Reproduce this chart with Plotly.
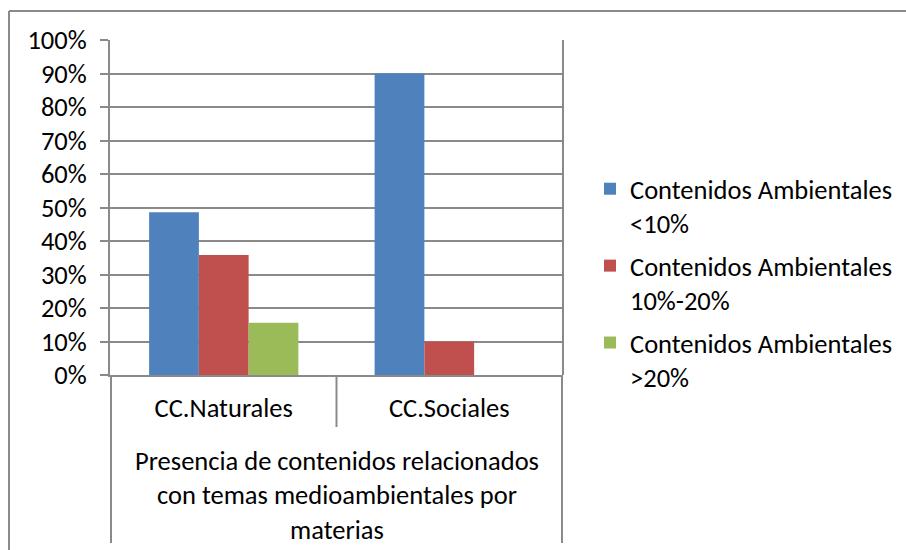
import plotly.graph_objects as go

categories = ["CC.Naturales", "CC.Sociales"]
series_names = ["Contenidos Ambientales<br><10%",
                "Contenidos Ambientales<br>10%-20%",
                "Contenidos Ambientales<br>>20%"]
vals_lt10 = [0.486, 0.90]
vals_10_20 = [0.358, 0.10]
vals_gt20 = [0.156, 0.0]
colors = ["#4F81BD", "#C0504D", "#9BBB59"]
outer_label = "Presencia de contenidos relacionados<br>con temas medioambientales por<br>materias"

FONT = "Carlito, Calibri, Lato, sans-serif"
FS = 26.5
GRID = "#8a8a8a"

fig = go.Figure()
for i, (name, vals) in enumerate(zip(series_names, [vals_lt10, vals_10_20, vals_gt20])):
    fig.add_trace(go.Bar(x=categories, y=vals, name=name, marker_color=colors[i],
                         marker_line_width=0, legendgroup=str(i)))

fig.update_layout(
    width=906, height=550,
    margin=dict(l=110, r=343, t=40, b=175, autoexpand=False),
    paper_bgcolor="white", plot_bgcolor="white",
    barmode="group", bargap=0.338, bargroupgap=0,
    font=dict(family=FONT, size=FS, color="black"),
    showlegend=True,
    legend=dict(x=(590 - 110) / 453, xanchor="left", y=(375 - 165) / 335, yanchor="top",
                valign="top", tracegroupgap=5, font=dict(size=FS),
                bgcolor="rgba(0,0,0,0)"),
)
fig.update_yaxes(range=[0, 1], dtick=0.1, tickformat=".0%", showgrid=True,
                 gridcolor=GRID, gridwidth=2, showline=True, linecolor=GRID, linewidth=2,
                 ticks="outside", ticklen=8, tickcolor=GRID, tickwidth=2,
                 ticklabelstandoff=8, zeroline=False, fixedrange=True)
fig.update_xaxes(showline=True, linecolor=GRID, linewidth=2, ticks="", showgrid=False,
                 mirror=False, ticklabelstandoff=8, fixedrange=True)

# right side frame of plot area
fig.add_shape(type="line", xref="paper", yref="paper", x0=1, x1=1, y0=0, y1=1,
              line=dict(color=GRID, width=2))
# category separators
fig.add_shape(type="line", xref="x", yref="paper", x0=0.5, x1=0.5, y0=0, y1=-(427 - 375) / 335,
              line=dict(color=GRID, width=2))
for xb in [-0.5, 1.5]:
    fig.add_shape(type="line", xref="x", yref="paper", x0=xb, x1=xb, y0=0, y1=-(543 - 375) / 335,
                  line=dict(color=GRID, width=2))
# outer chart border
fig.add_shape(type="line", xref="paper", yref="paper", x0=-(110 - 9) / 453, x1=-(110 - 9) / 453,
              y0=(375 - 11) / 335, y1=-(560 - 375) / 335, line=dict(color=GRID, width=2))
fig.add_shape(type="line", xref="paper", yref="paper", x0=-(110 - 9) / 453, x1=(920 - 110) / 453,
              y0=(375 - 11) / 335, y1=(375 - 11) / 335, line=dict(color=GRID, width=2))

fig.add_annotation(text=outer_label, xref="paper", yref="paper", x=0.5, y=-(495 - 375) / 335,
                   xanchor="center", yanchor="middle", showarrow=False, align="center",
                   font=dict(size=FS, family=FONT, color="black"))

fig.write_html("out.html", config={"displayModeBar": False},
               post_script="document.body.style.margin='0';document.body.style.padding='0';")
